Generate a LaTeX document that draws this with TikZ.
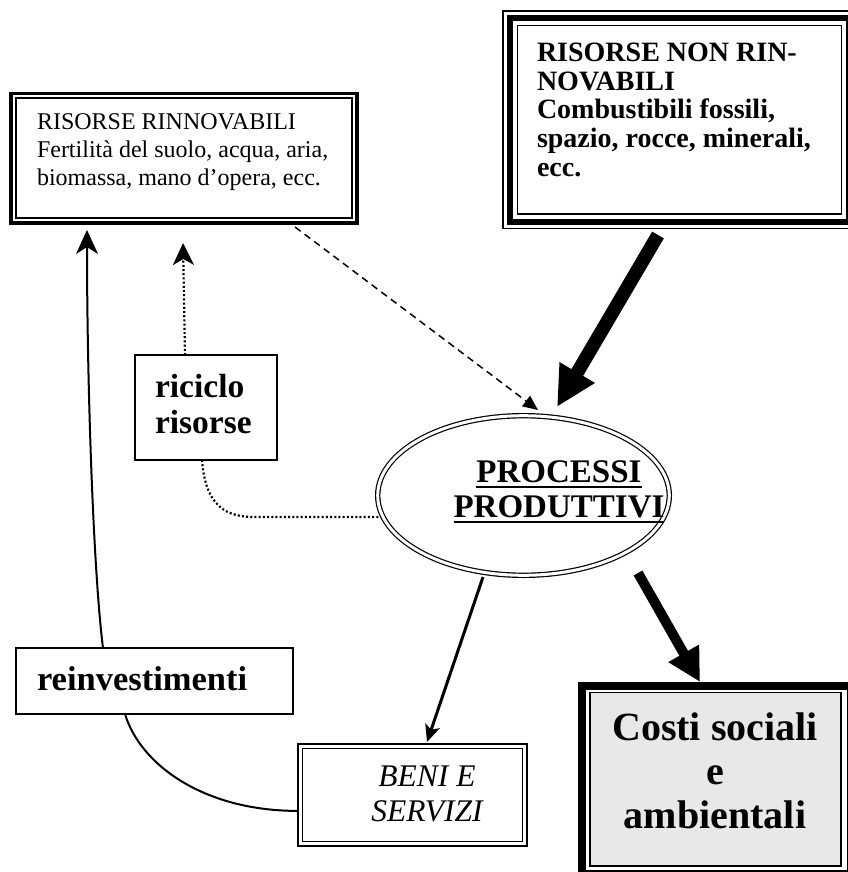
\documentclass[tikz,border=0pt]{standalone}
\usepackage{fontspec}
\setmainfont{Liberation Serif}
\usetikzlibrary{arrows.meta,shapes.geometric,backgrounds,calc}
\newcommand\myul[1]{\setbox0\hbox{#1}\rlap{\rule[-5.5pt]{\wd0}{1.8pt}}\box0}
\begin{document}
\begin{tikzpicture}[x=1pt,y=-1pt,
  every node/.style={inner sep=0pt, outer sep=0pt},
  thinbox/.style={draw, line width=1.2pt, fill=white},
  dotline/.style={line width=2.2pt, dash pattern=on 2pt off 2.2pt},
  dashline/.style={line width=1.5pt, dash pattern=on 7pt off 5pt},
  bigtip/.style={-{Triangle[length=40pt,width=38pt]}},
  midtip/.style={-{Triangle[length=33pt,width=33pt]}},
  stealthtip/.style={-{Stealth[length=22pt,width=21pt,inset=6pt]}}
]
\useasboundingbox (0,0) rectangle (847,872);

% renewable resources
\node[draw, line width=3.5pt, fill=white, minimum width=346pt, minimum height=129.5pt] (rinn) at (184,158.25) {};
\draw[line width=1.3pt] ([shift={(5,4.5)}]rinn.north west) rectangle ([shift={(-5,-5)}]rinn.south east);
\node[anchor=north west, align=left, font=\fontsize{24}{28}\selectfont] (rinnT) at (37,114) {RISORSE RINNOVABILI\\Fertilità del suolo, acqua, aria,\\biomassa, mano d’opera, ecc.};

% non-renewable resources
\node[draw, line width=1.5pt, fill=white, minimum width=353pt, minimum height=217.5pt] (nonrinn) at (679.5,119.75) {};
\draw[line width=6pt] ([shift={(6.7,6.8)}]nonrinn.north west) rectangle ([shift={(-6.7,-6.8)}]nonrinn.south east);
\draw[line width=1.5pt] ([shift={(14.5,14.5)}]nonrinn.north west) rectangle ([shift={(-14.5,-14.5)}]nonrinn.south east);
\node[anchor=north west, align=left, font=\bfseries\fontsize{28}{28.7}\selectfont] (nonrinnT) at (537,42.8) {RISORSE NON RIN-\\NOVABILI\\Combustibili fossili,\\spazio, rocce, minerali,\\ecc.};

% productive processes
\node[ellipse, draw, double, double distance=3pt, line width=1.2pt, minimum width=291.6pt, minimum height=159.6pt] (proc) at (523.5,495.5) {};
\node[anchor=north, align=center, font=\bfseries\fontsize{33}{35}\selectfont] (procT) at (559,460.7) {\myul{PROCESSI}\\\myul{PRODUTTIVI}};

% recycling
\node[thinbox, minimum width=142pt, minimum height=105pt] (ric) at (206,407.5) {};
\node[anchor=north west, align=left, font=\bfseries\fontsize{33.5}{36.5}\selectfont] (ricT) at (155,374) {riciclo\\risorse};

% reinvestments
\node[thinbox, minimum width=277pt, minimum height=66pt] (reinv) at (154.5,681) {};
\node[anchor=base west, font=\bfseries\fontsize{34.5}{38}\selectfont] (reinvT) at (37,690) {reinvestimenti};

% goods and services
\node[draw, line width=2.5pt, fill=white, minimum width=229.2pt, minimum height=102.2pt] (beni) at (412.4,794.9) {};
\draw[line width=1.3pt] ([shift={(4.5,4.5)}]beni.north west) rectangle ([shift={(-4.5,-4.5)}]beni.south east);
\node[anchor=north, align=center, font=\itshape\fontsize{31.5}{34.7}\selectfont] (beniT) at (427,766) {BENI E\\SERVIZI};

% social and environmental costs
\node[draw, line width=8pt, fill=white, minimum width=269pt, minimum height=188pt] (costi) at (716.5,780) {};
\draw[line width=1.4pt, fill=gray!18] ([shift={(8,6.5)}]costi.north west) rectangle ([shift={(-10,-8)}]costi.south east);
\node[anchor=north, align=center, font=\bfseries\fontsize{40}{44}\selectfont] (costiT) at (715,713) {Costi sociali\\e\\ambientali};

% connectors
\draw[dashline, -{Triangle[length=15pt,width=13pt]}] ([xshift=111pt,yshift=-4pt]rinn.south) -- ([xshift=14.5pt,yshift=5.7pt]proc.north);
\draw[line width=13.5pt, bigtip] ([xshift=-21.5pt,yshift=-6.5pt]nonrinn.south) -- ([xshift=33.5pt,yshift=8.7pt]proc.north);
\draw[line width=10pt, midtip] ([xshift=114.5pt,yshift=2.3pt]proc.south) -- ([xshift=-16.5pt,yshift=4pt]costi.north);
\draw[line width=3pt, -{Stealth[length=17pt,width=15pt,inset=4pt]}] ([xshift=-40.5pt,yshift=-1.7pt]proc.south) -- ([xshift=14.6pt,yshift=1.8pt]beni.north);
\draw[dotline, stealthtip] ([xshift=-21pt]ric.north) -- ([xshift=-1pt,yshift=-20pt]rinn.south);
\coordinate (bend) at ($(proc.west)+(-124,21.5)$);
\draw[dotline] ([xshift=-4pt]ric.south) .. controls +(3,38) and +(-35,0) .. (bend) -- ($(proc.west)+(3,21.5)$);
\begin{scope}[on background layer]
\draw[line width=2pt, -{Stealth[length=24pt,width=22pt,inset=7pt]}] ([yshift=-16pt]beni.west) .. controls +(-95,0) and +(15,50) .. ([xshift=-29.5pt]reinv.south) -- ([xshift=-51.5pt]reinv.north) .. controls +(-10,-80) and +(0,150) .. ([xshift=-97pt,yshift=-7pt]rinn.south);
\end{scope}
\end{tikzpicture}
\end{document}
